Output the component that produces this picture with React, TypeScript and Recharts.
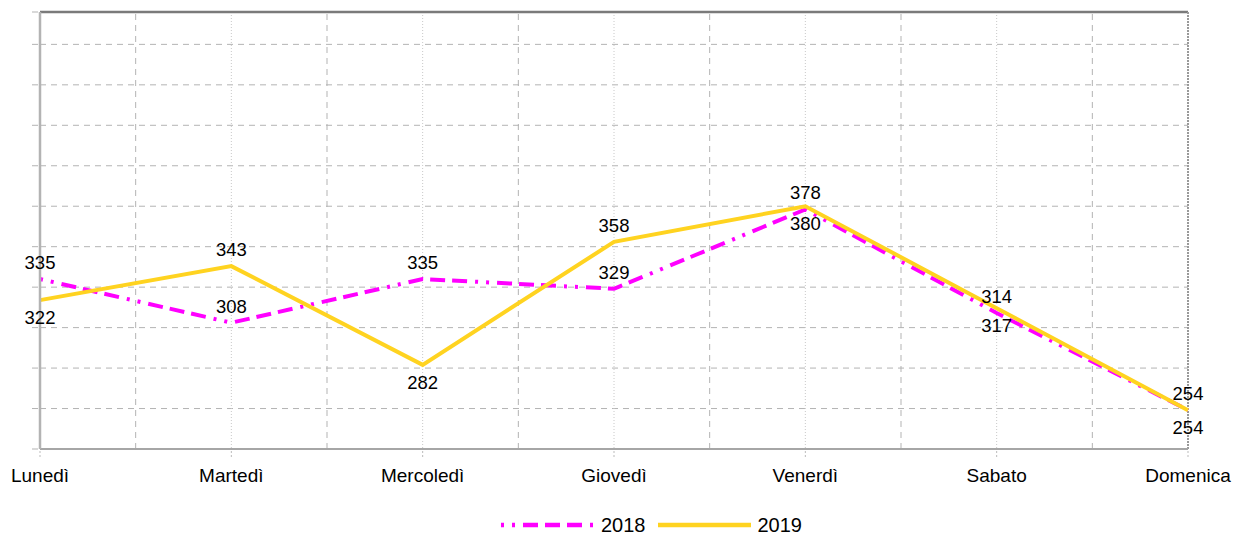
import React from 'react';
import { LineChart, Line, XAxis, YAxis, CartesianGrid, ReferenceLine, Legend, LabelList } from 'recharts';

const days = ['Lunedì', 'Martedì', 'Mercoledì', 'Giovedì', 'Venerdì', 'Sabato', 'Domenica'];
const values2018 = [335, 308, 335, 329, 378, 314, 254];
const values2019 = [322, 343, 282, 358, 380, 317, 254];
const yTicks = [230, 255, 280, 305, 330, 355, 380, 405, 430, 455, 480, 500];
const midpoints = [0.5, 1.5, 2.5, 3.5, 4.5, 5.5];

const data = days.map((day, i) => ({ day, idx: i, y2018: values2018[i], y2019: values2019[i] }));

const FONT = '"Liberation Sans", Arial, sans-serif';
const COLOR_2018 = '#ff00ff';
const COLOR_2019 = '#ffd320';
const DASH_2018 = '3 8 3 8 15 7 15 7 15 8';
const GRID = '#b3b3b3';

// 2018 labels sit above their points; 2019 labels go above only when clearly higher than 2018
const isAbove = (series: '2018' | '2019', i: number) =>
  series === '2018' ? true : values2019[i] > values2018[i] + 10;

const makeLabel = (series: '2018' | '2019') => (props: any) => {
  const { x, y, index, value } = props;
  const above = isAbove(series, index);
  return (
    <text
      x={x}
      y={above ? y - 10 : y + 24}
      textAnchor="middle"
      fontFamily={FONT}
      fontSize={18.5}
      fill="#000"
    >
      {value}
    </text>
  );
};

const LegendContent = () => (
  <div style={{ display: 'flex', alignItems: 'center', fontFamily: FONT, fontSize: 20, color: '#000' }}>
    <svg width={92} height={10} style={{ display: 'block' }}>
      <line x1={0} y1={5} x2={92} y2={5} stroke={COLOR_2018} strokeWidth={4.5} strokeDasharray={DASH_2018} />
    </svg>
    <span style={{ marginLeft: 8, lineHeight: '20px' }}>2018</span>
    <svg width={93} height={10} style={{ display: 'block', marginLeft: 12 }}>
      <line x1={0} y1={5} x2={93} y2={5} stroke={COLOR_2019} strokeWidth={4.5} />
    </svg>
    <span style={{ marginLeft: 7, lineHeight: '20px' }}>2019</span>
  </div>
);

export default function App() {
  return (
    <div style={{ position: 'absolute', left: 0, top: 0, width: 1234, height: 534, background: '#fff' }}>
      <LineChart
        width={1234}
        height={534}
        data={data}
        margin={{ top: 12, right: 46, bottom: 45, left: 0 }}
      >
        <CartesianGrid horizontal={true} vertical={false} stroke={GRID} strokeDasharray="6 5" />
        <CartesianGrid horizontal={false} vertical={true} stroke="#c8c8c8" strokeDasharray="1 2" />
        <XAxis
          dataKey="day"
          height={40}
          tickSize={8}
          tickMargin={12}
          interval={0}
          axisLine={{ stroke: '#a6a6a6', strokeWidth: 2 }}
          tickLine={{ stroke: '#bbbbbb', strokeDasharray: '2 2' }}
          tick={{ fontFamily: FONT, fontSize: 19, fill: '#000' }}
        />
        <XAxis xAxisId="num" dataKey="idx" type="number" domain={[0, 6]} hide />
        <YAxis
          width={40}
          domain={[230, 500]}
          ticks={yTicks}
          interval={0}
          tickFormatter={() => ''}
          tick={{ fontSize: 1, fill: 'transparent' }}
          tickSize={8}
          axisLine={{ stroke: '#b3b3b3', strokeWidth: 2.5 }}
          tickLine={{ stroke: GRID, strokeDasharray: '6 5' }}
        />
        {midpoints.map((m) => (
          <ReferenceLine key={m} x={m} xAxisId="num" stroke={GRID} strokeDasharray="6 5" />
        ))}
        <ReferenceLine y={500} stroke="#7a7a7a" strokeWidth={2.5} />
        <ReferenceLine x={6} xAxisId="num" stroke="#999999" strokeWidth={2} strokeDasharray="2 1" />
        <Line
          dataKey="y2018"
          name="2018"
          stroke={COLOR_2018}
          strokeWidth={4}
          strokeDasharray={DASH_2018}
          dot={false}
          activeDot={false}
          isAnimationActive={false}
        >
          <LabelList dataKey="y2018" content={makeLabel('2018')} />
        </Line>
        <Line
          dataKey="y2019"
          name="2019"
          stroke={COLOR_2019}
          strokeWidth={4}
          dot={false}
          activeDot={false}
          isAnimationActive={false}
        >
          <LabelList dataKey="y2019" content={makeLabel('2019')} />
        </Line>
        <Legend
          verticalAlign="middle"
          layout="horizontal"
          content={<LegendContent />}
          wrapperStyle={{ position: 'absolute', left: 501, top: 515, width: 320, height: 20 }}
        />
      </LineChart>
    </div>
  );
}
